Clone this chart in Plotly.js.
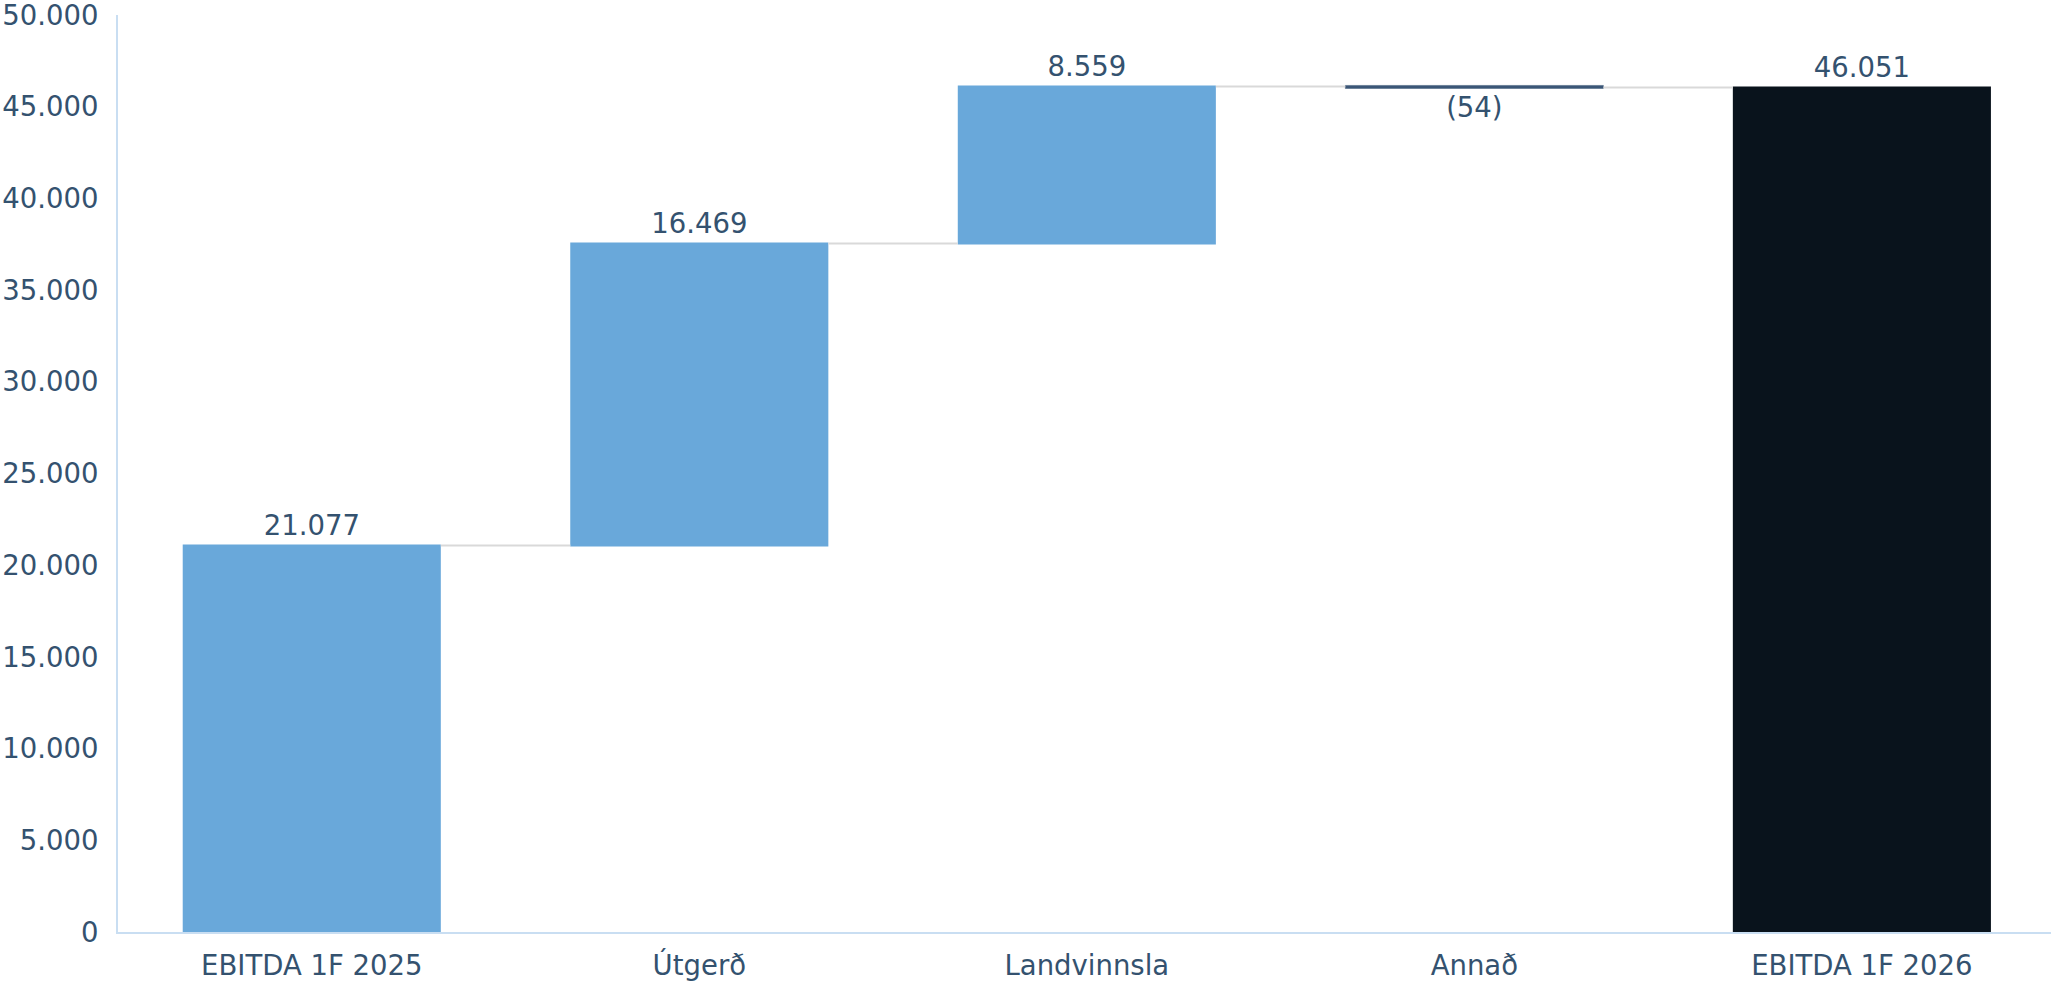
<!DOCTYPE html>
<html>
<head>
<meta charset="utf-8">
<script src="https://cdn.plot.ly/plotly-3.0.1.min.js"></script>
<style>
  html, body { margin: 0; padding: 0; background: #ffffff; }
  #chart { width: 2051px; height: 981px; }
</style>
</head>
<body>
<div id="chart"></div>
<script>
const categories = ["EBITDA 1F 2025", "Útgerð", "Landvinnsla", "Annað", "EBITDA 1F 2026"];
const measures = ["relative", "relative", "relative", "relative", "total"];
const values = [21077, 16469, 8559, -54, 0];
const yTicks = [0, 5000, 10000, 15000, 20000, 25000, 30000, 35000, 40000, 45000, 50000];

function fmt(v) {
  const s = Math.abs(Math.round(v)).toString().replace(/\B(?=(\d{3})+(?!\d))/g, ".");
  return v < 0 ? "(" + s + ")" : s;
}
let running = 0;
const labels = values.map((v, i) => {
  if (measures[i] === "total") return fmt(running);
  running += v;
  return fmt(v);
});

const textColor = "#34526f";
const font = { family: "DejaVu Sans, Verdana, sans-serif", size: 27.5, color: textColor };

const trace = {
  type: "waterfall",
  x: categories,
  y: values,
  measure: measures,
  text: labels,
  textposition: "outside",
  textfont: font,
  cliponaxis: false,
  hoverinfo: "x+text",
  increasing: { marker: { color: "#69a8da" } },
  decreasing: { marker: { color: "#3b5677", line: { color: "#3b5677", width: 0.5 } } },
  totals: { marker: { color: "#09131c" } },
  connector: { mode: "between", line: { color: "#d9d9d9", width: 2 } },
  width: 0.666
};

const layout = {
  width: 2051,
  height: 981,
  margin: { l: 118, r: 0, t: 15, b: 49 },
  paper_bgcolor: "#ffffff",
  plot_bgcolor: "#ffffff",
  separators: ",.",
  showlegend: false,
  font: font,
  xaxis: {
    type: "category",
    range: [-0.5, 4.488],
    showgrid: false,
    zeroline: false,
    showline: true,
    linecolor: "#c9def2",
    linewidth: 2,
    ticks: "",
    ticklabelstandoff: 8,
    tickfont: font
  },
  yaxis: {
    range: [0, 50000],
    tickvals: yTicks,
    tickformat: ",d",
    showgrid: false,
    zeroline: false,
    showline: true,
    linecolor: "#c9def2",
    linewidth: 2,
    ticks: "",
    ticklabelstandoff: 12,
    ticklabeloverflow: "allow",
    tickfont: font
  }
};

Plotly.newPlot("chart", [trace], layout, { displayModeBar: false, staticPlot: true });
</script>
</body>
</html>
